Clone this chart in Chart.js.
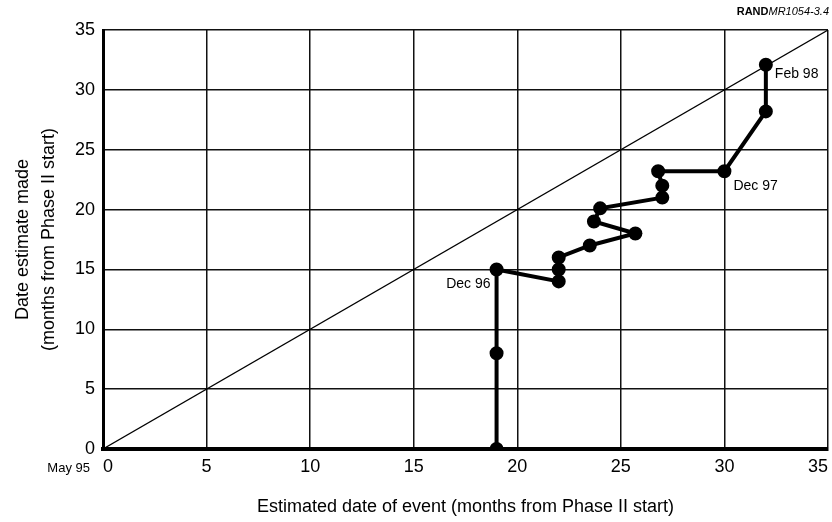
<!DOCTYPE html>
<html>
<head>
<meta charset="utf-8">
<script src="https://cdn.jsdelivr.net/npm/chart.js@4.4.1/dist/chart.umd.min.js"></script>
<style>
    html, body { margin: 0; background: #fff; overflow: hidden; }
    /* slightly wider than the window so the plot runs to the right edge */
    #wrap { width: 837px; height: 522px; position: relative; }
</style>
</head>
<body>
<div id="wrap"><canvas id="estChart"></canvas></div>
<script>
// Estimated date of event vs. date the estimate was made (months from Phase II start)
const estimatedDate = [19, 19, 19, 22, 22, 22, 23.5, 25.7, 23.7, 24, 27, 27, 26.8, 30, 32, 32];
const estimateMade  = [0, 8, 15, 14, 15, 16, 17, 18, 19, 20.1, 21, 22, 23.2, 23.2, 28.2, 32.1];
const pointNotes = { 2: 'Dec 96', 13: 'Dec 97', 15: 'Feb 98' };
const axisTicks = [0, 5, 10, 15, 20, 25, 30, 35];

const FONT = "'Liberation Sans', Arial, Helvetica, sans-serif";

// labels next to points, plus the corner captions
const notesPlugin = {
    id: 'notes',
    afterDatasetsDraw(chart) {
        const ctx = chart.ctx;
        const xs = chart.scales.x, ys = chart.scales.y;
        ctx.save();
        ctx.fillStyle = '#000';
        ctx.textBaseline = 'middle';
        ctx.font = '14px ' + FONT;
        Object.keys(pointNotes).forEach(i => {
            const px = xs.getPixelForValue(estimatedDate[i]);
            const py = ys.getPixelForValue(estimateMade[i]);
            const txt = pointNotes[i];
            if (txt === 'Dec 96') {
                ctx.textAlign = 'right';
                ctx.fillText(txt, px - 6, py + 15);
            } else if (txt === 'Dec 97') {
                ctx.textAlign = 'left';
                ctx.fillText(txt, px + 9, py + 15);
            } else {
                ctx.textAlign = 'left';
                ctx.fillText(txt, px + 9, py + 9);
            }
        });
        // May 95 beside the zero tick
        ctx.textAlign = 'right';
        ctx.font = '13px ' + FONT;
        ctx.fillText('May 95', xs.getPixelForValue(0) - 13, ys.getPixelForValue(0) + 19);
        // figure id
        ctx.font = 'italic 11px ' + FONT;
        ctx.textAlign = 'right';
        const right = xs.right + 1;
        ctx.fillText('MR1054-3.4', right, 12);
        const w = ctx.measureText('MR1054-3.4').width;
        ctx.font = 'bold 11px ' + FONT;
        ctx.fillText('RAND', right - w, 12);
        ctx.restore();
    }
};

const ctx = document.getElementById('estChart').getContext('2d');
new Chart(ctx, {
    type: 'scatter',
    data: {
        datasets: [
            {
                label: 'Estimate',
                data: estimatedDate.map((x, i) => ({ x: x, y: estimateMade[i] })),
                showLine: true,
                borderColor: '#000',
                backgroundColor: '#000',
                borderWidth: 4,
                pointRadius: 5,
                pointHoverRadius: 5,
                order: 1
            },
            {
                label: 'Diagonal',
                data: [{ x: axisTicks[0], y: axisTicks[0] }, { x: axisTicks[axisTicks.length - 1], y: axisTicks[axisTicks.length - 1] }],
                showLine: true,
                borderColor: '#000',
                borderWidth: 1.2,
                pointRadius: 0,
                order: 2
            }
        ]
    },
    options: {
        responsive: true,
        maintainAspectRatio: false,
        animation: false,
        layout: { padding: { top: 30, right: 0, left: 0, bottom: 0 } },
        plugins: {
            legend: { display: false },
            tooltip: { enabled: false }
        },
        scales: {
            x: {
                type: 'linear',
                min: 0,
                max: 35,
                afterBuildTicks: s => { s.ticks = axisTicks.map(v => ({ value: v })); },
                afterFit: s => { s.height = 73; },
                grid: { color: '#111', lineWidth: 1.5, drawTicks: false },
                border: { color: '#000', width: 4 },
                ticks: { color: '#000', padding: 7, align: 'inner', font: { family: FONT, size: 18 } },
                title: {
                    display: true,
                    text: 'Estimated date of event (months from Phase II start)',
                    color: '#000',
                    padding: { top: 14 },
                    font: { family: FONT, size: 18 }
                }
            },
            y: {
                type: 'linear',
                min: 0,
                max: 35,
                afterBuildTicks: s => { s.ticks = axisTicks.map(v => ({ value: v })); },
                afterFit: s => { s.width = 103; },
                grid: { color: '#111', lineWidth: 1.5, drawTicks: false },
                border: { color: '#000', width: 3 },
                ticks: { color: '#000', padding: 8, font: { family: FONT, size: 18 } },
                title: {
                    display: true,
                    text: ['Date estimate made', '(months from Phase II start)'],
                    color: '#000',
                    padding: { top: 10, bottom: 0 },
                    font: { family: FONT, size: 18, lineHeight: 1.45 }
                }
            }
        }
    },
    plugins: [notesPlugin]
});
</script>
</body>
</html>
